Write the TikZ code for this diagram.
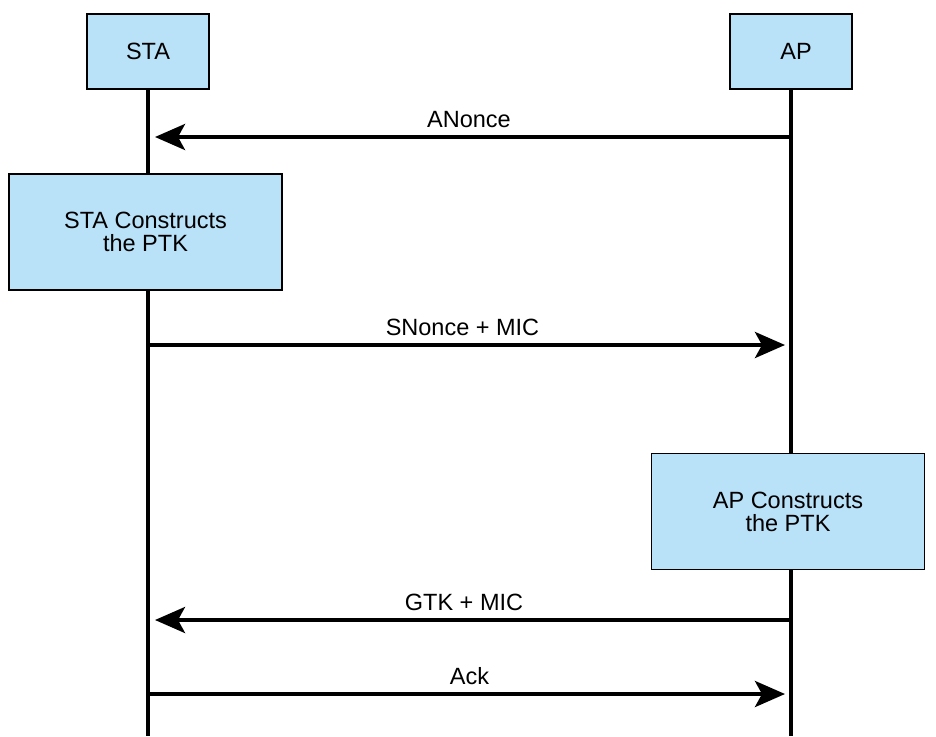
\documentclass[tikz,border=0pt]{standalone}
\usepackage{fontspec}
\setmainfont{Liberation Sans}
\usetikzlibrary{arrows.meta}
\definecolor{boxblue}{HTML}{B9E1F7}
\begin{document}
\begin{tikzpicture}[x=1pt,y=-1pt,
  actor/.style={draw=black,line width=1.8pt,fill=boxblue,minimum width=122pt,minimum height=75pt,inner sep=0pt,font=\fontsize{23.5}{23}\selectfont},
  work/.style={draw=black,line width=1.8pt,fill=boxblue,minimum width=273pt,minimum height=116pt,inner sep=0pt,align=center,font=\fontsize{23.5}{23}\selectfont},
  life/.style={line width=4pt},
  msg/.style={line width=4pt,-{Stealth[length=30pt,width=26pt,inset=7pt]}},
  lbl/.style={font=\fontsize{23.5}{23}\selectfont,anchor=base}
]
\useasboundingbox (0,0) rectangle (936,736);
% lifeline ends
\coordinate (staEnd) at (148,736);
\coordinate (apEnd) at (791,736);
% lifelines (behind boxes)
\draw[life] (148,89) -- (staEnd);
\draw[life] (791,89) -- (apEnd);
% actor boxes
\node[actor] (sta) at (148,51.5) {STA};
\node[actor] (ap) at (791,51.5) {\hspace{10pt}AP};
% work boxes
\node[work] (stawork) at (145.5,232) {STA Constructs\\the PTK};
\node[work] (apwork) at (788,511.5) {AP Constructs\\the PTK};
% message points
\coordinate (s1) at (148,137); \coordinate (a1) at (791,137);
\coordinate (s2) at (148,345); \coordinate (a2) at (791,345);
\coordinate (s3) at (148,620); \coordinate (a3) at (791,620);
\coordinate (s4) at (148,694); \coordinate (a4) at (791,694);
% messages
\draw[msg,shorten >=7pt] (a1) -- (s1);
\draw[msg,shorten >=6pt] (s2) -- (a2);
\draw[msg,shorten >=7pt] (a3) -- (s3);
\draw[msg,shorten >=6pt] (s4) -- (a4);
% labels
\node[lbl] (l1) at (469,127) {ANonce};
\node[lbl] (l2) at (462.5,335.5) {SNonce + MIC};
\node[lbl] (l3) at (464,610) {GTK + MIC};
\node[lbl] (l4) at (469.5,684.5) {Ack};
\end{tikzpicture}
\end{document}
